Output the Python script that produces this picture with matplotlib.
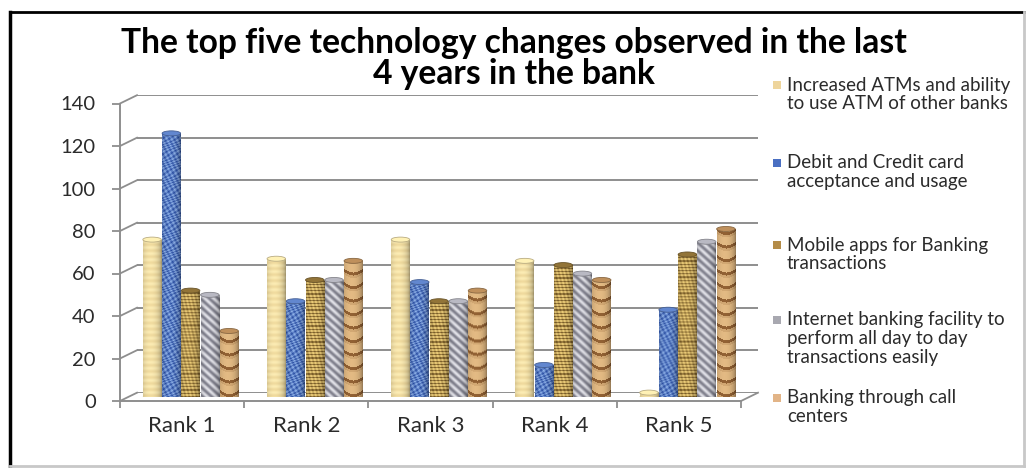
import numpy as np
import matplotlib
matplotlib.use("Agg")
import matplotlib.pyplot as plt
from matplotlib.patches import Ellipse, Rectangle
from matplotlib.lines import Line2D

plt.rcParams['font.family'] = ['Lato', 'DejaVu Sans']

# ---- data ---------------------------------------------------------------
ranks = ["Rank 1", "Rank 2", "Rank 3", "Rank 4", "Rank 5"]
series_names = [
    "Increased ATMs and ability\nto use ATM of other banks",
    "Debit and Credit card\nacceptance and usage",
    "Mobile apps for Banking\ntransactions",
    "Internet banking facility to\nperform all day to day\ntransactions easily",
    "Banking through call\ncenters",
]
atm_values = [74, 65, 74, 64, 2]
card_values = [124, 45, 54, 15, 41]
mobile_values = [50, 55, 45, 62, 67]
internet_values = [48, 55, 45, 58, 73]
callcenter_values = [31, 64, 50, 55, 79]
y_ticks = [0, 20, 40, 60, 80, 100, 120, 140]
title_lines = ["The top five technology changes observed in the last",
               "4 years in the bank"]

all_values = [atm_values, card_values, mobile_values, internet_values, callcenter_values]
kinds = ["atm", "card", "mobile", "internet", "call"]
legend_colors = ["#EED59C", "#4A6FC2", "#B48C48", "#A8A8B0", "#E2B487"]

W, H = 1029, 468
fig = plt.figure(figsize=(W / 100, H / 100), dpi=100)
fig.patch.set_facecolor("white")


def fx(x):
    return x / W


def fy(y):
    return 1 - y / H


YMAX = 140
plot_w = 621
plot_h = 297.5
depth_dx, depth_dy = 17, 8.3


def make_axes(left_px, base_px, z):
    a = fig.add_axes([fx(left_px), fy(base_px), plot_w / W, plot_h / H], zorder=z)
    a.set_xlim(0, 5)
    a.set_ylim(0, YMAX)
    a.patch.set_alpha(0)
    return a


ax_back = make_axes(120 + depth_dx, 401 - depth_dy, 1)
ax_bars = make_axes(120 + depth_dx / 2, 401 - depth_dy / 2, 3)
ax = make_axes(120, 401, 2)

for a in (ax_back, ax_bars):
    a.axis("off")

grid_col = "#8E8E8E"
text_col = "#2B2B2B"
# back wall gridlines
ax_back.hlines(y_ticks, 0, 5, color=grid_col, lw=1.4)

# front axes
for s in ("top", "right"):
    ax.spines[s].set_visible(False)
for s in ("left", "bottom"):
    ax.spines[s].set_color(grid_col)
    ax.spines[s].set_linewidth(1.4)
ax.set_yticks(y_ticks)
ax.set_yticklabels([str(t) for t in y_ticks], fontsize=14.5, color=text_col)
ax.tick_params(axis="y", length=6, width=1.3, color=grid_col, pad=11.5)
ax.set_xticks(range(6))
ax.set_xticklabels([])
ax.tick_params(axis="x", which="major", length=5, width=1.3, color=grid_col)
ax.set_xticks(np.arange(5) + 0.5, minor=True)
ax.set_xticklabels(ranks, minor=True, fontsize=16, color=text_col)
ax.tick_params(axis="x", which="minor", length=0, pad=10.5)

# depth connectors between front axis and back wall
fig.canvas.draw()
conn = []
for t in y_ticks:
    conn.append(((0, t), ax, ax_back))
conn.append(((5, 0), ax, ax_back))
for (pt, a1, a2) in conn:
    p1 = a1.transData.transform(pt)
    p2 = a2.transData.transform(pt)
    fig.add_artist(Line2D([p1[0], p2[0]], [p1[1], p2[1]], transform=None,
                          color=grid_col, lw=1.3, zorder=2))


# ---- cylinder textures ---------------------------------------------------
def texture(kind, h, w):
    y = np.arange(h)[:, None] + 0.5
    x = np.arange(w)[None, :] + 0.5
    u = (x / w) * 2 - 1
    shade = 0.55 + 0.45 * np.sqrt(np.clip(1 - ((u + 0.2) / 1.2) ** 2, 0, 1))
    yy = np.broadcast_to(y, (h, w))
    xx = np.broadcast_to(x, (h, w))
    if kind == "atm":
        c1, c2 = np.array([252, 236, 180]), np.array([222, 192, 125])
        p = 0.5 + 0.5 * np.sin(2 * np.pi * yy / 6)
        p = 0.4 * p
    elif kind == "card":
        c1, c2 = np.array([150, 185, 238]), np.array([38, 74, 160])
        p = (0.5 + 0.22 * np.sin(xx * 1.3 + yy * 0.7)
             + 0.22 * np.sin(yy * 1.9 - xx * 0.9 + 2 * np.sin(yy * 0.35))
             + 0.06 * np.sin(xx * 2.7 + yy * 3.1))
    elif kind == "mobile":
        c1, c2 = np.array([236, 204, 120]), np.array([100, 72, 26])
        p = 0.15 + 0.55 * ((yy % 3.2) < 1.1) + 0.15 * np.sin(xx * 1.7 + yy * 0.4)
    elif kind == "internet":
        c1, c2 = np.array([230, 230, 236]), np.array([125, 125, 138])
        p = 0.5 + 0.45 * np.sin(2 * np.pi * (xx * 0.9 + yy) / 8)
    else:
        c1, c2 = np.array([238, 198, 142]), np.array([130, 80, 36])
        phase = (yy - 4 * u ** 2) % 13.5
        p = 0.1 + 0.75 * (phase < 3.0) + 0.15 * (phase > 11.0)
    p = np.clip(p, 0, 1)[..., None]
    rgb = (c1 * (1 - p) + c2 * p) / 255.0
    return np.clip(rgb * shade[..., None], 0, 1)


n = len(all_values)
bw = 0.149
step = 0.155
px_per_unit = plot_h / YMAX
cap_h = 5 / px_per_unit

for i, (vals, kind, col) in enumerate(zip(all_values, kinds, legend_colors)):
    xs = np.arange(5) + 0.5 + (i - (n - 1) / 2) * step
    bars = ax_bars.bar(xs, vals, width=bw, color=col, linewidth=0, zorder=3)
    for rect, v in zip(bars.patches, vals):
        h_px = max(2, int(round(v * px_per_unit)))
        img = texture(kind, h_px, 19)
        x0 = rect.get_x()
        im = ax_bars.imshow(img, extent=(x0, x0 + bw, 0, v), origin="lower",
                            aspect="auto", interpolation="bilinear", zorder=4)
        im.set_clip_path(rect)
        top = texture(kind, 4, 19)[-1].mean(axis=0)
        ax_bars.add_patch(Ellipse((x0 + bw / 2, v), bw, cap_h,
                                  facecolor=np.clip(top * 1.12, 0, 1),
                                  edgecolor=np.clip(top * 0.8, 0, 1),
                                  lw=0.6, zorder=5))
        ax_bars.add_patch(Ellipse((x0 + bw / 2, 0), bw, cap_h,
                                  facecolor=np.clip(top * 0.8, 0, 1),
                                  edgecolor="none", zorder=3.5))
ax_bars.set_xlim(0, 5)
ax_bars.set_ylim(0, YMAX)

# ---- title ----------------------------------------------------------------
fig.text(fx(514), fy(43), title_lines[0], ha="center", va="center",
         fontsize=24.2, fontweight="bold", color="black")
fig.text(fx(514), fy(74), title_lines[1], ha="center", va="center",
         fontsize=24.2, fontweight="bold", color="black")

# ---- legend ----------------------------------------------------------------
legend_first_line = [85, 163, 245, 320, 398]
line_gap = 18.5
for name, col, y0 in zip(series_names, legend_colors, legend_first_line):
    fig.add_artist(Rectangle((fx(773), fy(y0 + 4)), 8 / W, 8 / H,
                             transform=fig.transFigure, facecolor=col,
                             edgecolor="none"))
    for k, line in enumerate(name.split("\n")):
        fig.text(fx(787), fy(y0 + k * line_gap), line, ha="left", va="center",
                 fontsize=13.5, color=text_col)

# ---- outer frame ------------------------------------------------------------
fig.add_artist(Line2D([fx(10), fx(10)], [fy(12), fy(466)], transform=fig.transFigure,
                      color="black", lw=2.5))
fig.add_artist(Line2D([fx(10), fx(1024)], [fy(12), fy(12)], transform=fig.transFigure,
                      color="black", lw=2.0))
fig.add_artist(Line2D([fx(1024), fx(1024)], [fy(12), fy(466)], transform=fig.transFigure,
                      color="#C8C8C8", lw=2.0))
fig.add_artist(Line2D([fx(10), fx(1024)], [fy(466), fy(466)], transform=fig.transFigure,
                      color="#C8C8C8", lw=2.0))

fig.savefig("out.png", dpi=100, facecolor="white")
